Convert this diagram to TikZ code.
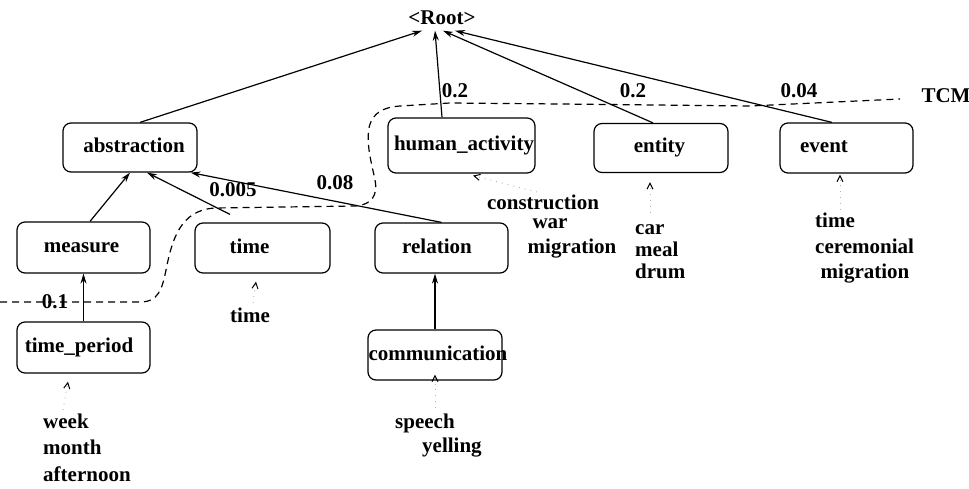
\documentclass[tikz,border=0pt]{standalone}
\usepackage{fontspec}
\setmainfont{Liberation Serif}
\usetikzlibrary{arrows.meta}
\newcommand\boxtxt[2]{\makebox[0pt]{\hspace*{#1}#2}}
\begin{document}
\begin{tikzpicture}[x=1pt,y=-1pt,
  every node/.style={font=\fontsize{21}{25}\selectfont\bfseries},
  box/.style={draw, rounded corners=8pt, line width=1.2pt, inner sep=0pt,
    text height=14pt, text depth=4pt, minimum width=134pt, minimum height=50pt},
  word/.style={inner sep=0pt, text height=14pt, text depth=4pt},
  wordl/.style={word, anchor=west},
  edge/.style={line width=1.2pt, -{Stealth[length=10pt,width=6pt]}},
  leader/.style={gray!60, line width=0.9pt, dash pattern=on 0.9pt off 5pt,
    -{Straight Barb[length=6pt,width=6pt,color=black,line width=1pt]}},
  tcm/.style={line width=1.2pt, dash pattern=on 7pt off 5pt}]
\useasboundingbox (0,0) rectangle (969,489);

% root
\node[inner sep=1.5pt, text height=14pt, text depth=4pt] (root) at (442,20) {<Root>};

% boxes
\node[box, minimum width=134pt, minimum height=49pt] (abs) at (130,147.5) {\boxtxt{8pt}{abstraction}};
\node[box, minimum width=147pt, minimum height=55pt] (hum) at (461.5,145.5) {\boxtxt{5pt}{human\_activity}};
\node[box, minimum width=134pt, minimum height=49pt] (ent) at (661,148) {\boxtxt{-3pt}{entity}};
\node[box, minimum width=133pt, minimum height=50pt] (evt) at (846.5,148) {\boxtxt{-45pt}{event}};
\node[box, minimum width=133pt, minimum height=51pt] (mea) at (83.5,247.5) {\boxtxt{-4pt}{measure}};
\node[box, minimum width=135pt, minimum height=50pt] (tim) at (262.5,248) {\boxtxt{-26pt}{time}};
\node[box, minimum width=133pt, minimum height=50pt] (rel) at (441.5,248) {\boxtxt{-9pt}{relation}};
\node[box, minimum width=133pt, minimum height=51pt] (tp) at (83.5,347.5) {\boxtxt{-9pt}{time\_period}};
\node[box, minimum width=134pt, minimum height=50pt] (com) at (435,355) {\boxtxt{6pt}{communication}};

% TCM cut line
\draw[tcm] (0,302) -- (140,302)
  .. controls (158,302) and (162,290) .. (166,270)
  .. controls (172,240) and (180,210) .. (215,208)
  -- (355,206)
  .. controls (372,205) and (378,195) .. (375,180)
  .. controls (372,165) and (366,145) .. (369,128)
  .. controls (372,112) and (385,107) .. (400,106)
  -- (450,103) -- (560,104) -- (750,106) -- (900,99);
\node[word] (tcmlab) at (946,98) {TCM};

% edges to root
\draw[edge] ([xshift=10pt]abs.north) -- ([xshift=-20pt]root.south);
\draw[edge] ([xshift=-19.5pt]hum.north) -- ([xshift=-7pt]root.south);
\draw[edge] ([xshift=-8pt]ent.north) -- ([xshift=1pt]root.south);
\draw[edge] ([xshift=-14.5pt]evt.north) -- ([xshift=13pt]root.south);

% edges to abstraction
\draw[edge] ([xshift=6.5pt]mea.north) -- (abs.south);
\draw[edge] ([xshift=-32.5pt,yshift=8pt]tim.north) -- ([xshift=17pt]abs.south);
\draw[edge] (rel.north) -- ([xshift=-7pt]abs.south east);
\draw[edge] (tp.north) -- (mea.south);
\draw[edge] (com.north) -- ([xshift=-6.5pt]rel.south);

% probabilities
\node[word] (p1) at (455,93) {0.2};
\node[word] (p2) at (633,93) {0.2};
\node[word] (p3) at (799,93) {0.04};
\node[word] (p4) at (233,192) {0.005};
\node[word] (p5) at (335,185) {0.08};
\node[word] (p6) at (55,303) {0.1};

% leader coordinates
\coordinate (hl) at (537,192);
\coordinate (el) at (650,213);
\coordinate (vl) at (840,210);
\coordinate (tl) at (253,303);
\coordinate (pl) at (63,410);
\coordinate (cl) at (435,408);
\draw[leader] (hl) -- ([xshift=11.5pt,yshift=-2pt]hum.south);
\draw[leader] (el) -- ([xshift=-11pt,yshift=-9pt]ent.south);
\draw[leader] (vl) -- ([xshift=-6.5pt,yshift=-1pt]evt.south);
\draw[leader] (tl) -- ([xshift=-6.5pt,yshift=-8pt]tim.south);
\draw[leader] (pl) -- ([xshift=-15.5pt,yshift=-8pt]tp.south);
\draw[leader] (cl) -- ([yshift=6pt]com.south);

% word lists
\node[word] (w1) at (543,205) {construction};
\node[word] (w2) at (550,224) {war};
\node[word] (w3) at (572,248) {migration};
\node[wordl] (w4) at (635,230) {car};
\node[wordl] (w5) at (635,251) {meal};
\node[wordl] (w6) at (635,273) {drum};
\node[wordl] (w7) at (815,223) {time};
\node[wordl] (w8) at (815,248) {ceremonial};
\node[word] (w9) at (865,273) {migration};
\node[word] (w10) at (250,317) {time};
\node[wordl] (w11) at (43,423) {week};
\node[wordl] (w12) at (43,449) {month};
\node[wordl] (w13) at (43,476) {afternoon};
\node[wordl] (w14) at (395,423) {speech};
\node[wordl] (w15) at (422,447) {yelling};
\end{tikzpicture}
\end{document}
